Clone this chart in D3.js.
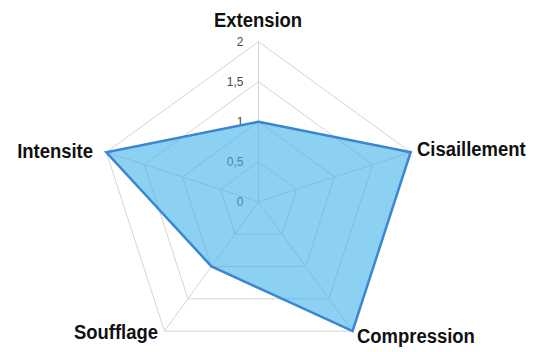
<!DOCTYPE html>
<html>
<head>
<meta charset="utf-8">
<script src="https://cdn.jsdelivr.net/npm/d3@7"></script>
<style>
  html, body { margin: 0; padding: 0; background: #fff; }
  svg { display: block; }
</style>
</head>
<body>
<svg id="chart" width="536" height="352"></svg>
<script>
// Axes of the radar, clockwise from the top
const axes = ["Extension", "Cisaillement", "Compression", "Soufflage", "Intensite"];
// Series values per axis
const values = [1, 2, 2, 1, 2];
// Radial ticks and their labels
const ticks = [0, 0.5, 1, 1.5, 2];
const tickLabels = ["0", "0,5", "1", "1,5", "2"];

const svg = d3.select("#chart");
const cx = 258.5, cy = 201.7, R = 160;

const r = d3.scaleLinear().domain([0, 2]).range([0, R]);
const angle = d3.scalePoint().domain(axes).range([0, 2 * Math.PI * (axes.length - 1) / axes.length]);

const pt = (a, v) => [cx + r(v) * Math.sin(angle(a)), cy - r(v) * Math.cos(angle(a))];

const g = svg.append("g");

// Grid rings (pentagons)
const ringLine = d3.line();
g.selectAll("path.ring")
  .data(ticks.filter(t => t > 0))
  .join("path")
  .attr("class", "ring")
  .attr("d", t => ringLine(axes.map(a => pt(a, t))) + "Z")
  .attr("fill", "none")
  .attr("stroke", "#d4d4d4")
  .attr("stroke-width", 1);

// Spokes
g.selectAll("line.spoke")
  .data(axes)
  .join("line")
  .attr("class", "spoke")
  .attr("x1", cx).attr("y1", cy)
  .attr("x2", a => pt(a, 2)[0])
  .attr("y2", a => pt(a, 2)[1])
  .attr("stroke", "#d4d4d4")
  .attr("stroke-width", 1);

// Tick labels along the top axis
g.selectAll("text.tick")
  .data(ticks)
  .join("text")
  .attr("class", "tick")
  .attr("x", cx - 15)
  .attr("y", t => cy - r(t) + 4.5)
  .attr("text-anchor", "end")
  .attr("font-family", "'Liberation Sans', Arial, sans-serif")
  .attr("font-size", 12)
  .attr("fill", "#4a4a4a")
  .text((t, i) => tickLabels[i]);

// Series area
const area = d3.line();
g.append("path")
  .attr("d", area(axes.map((a, i) => pt(a, values[i]))) + "Z")
  .attr("fill", "#3fb3ea")
  .attr("fill-opacity", 0.6)
  .attr("stroke", "#3a86d0")
  .attr("stroke-width", 2.5)
  .attr("stroke-linejoin", "miter");

// Axis labels (slightly condensed bold sans)
const labelPos = {
  "Extension":    { x: 258, y: 27,  anchor: "middle" },
  "Cisaillement": { x: 417, y: 156, anchor: "start" },
  "Compression":  { x: 357, y: 343, anchor: "start" },
  "Soufflage":    { x: 158, y: 339, anchor: "end" },
  "Intensite":    { x: 93,  y: 157.5, anchor: "end" }
};
g.selectAll("text.axis")
  .data(axes)
  .join("text")
  .attr("class", "axis")
  .attr("transform", a => `translate(${labelPos[a].x},${labelPos[a].y}) scale(0.9,1)`)
  .attr("text-anchor", a => labelPos[a].anchor)
  .attr("font-family", "'Liberation Sans', Arial, sans-serif")
  .attr("font-weight", "bold")
  .attr("font-size", 20.5)
  .attr("fill", "#111")
  .text(a => a);
</script>
</body>
</html>
